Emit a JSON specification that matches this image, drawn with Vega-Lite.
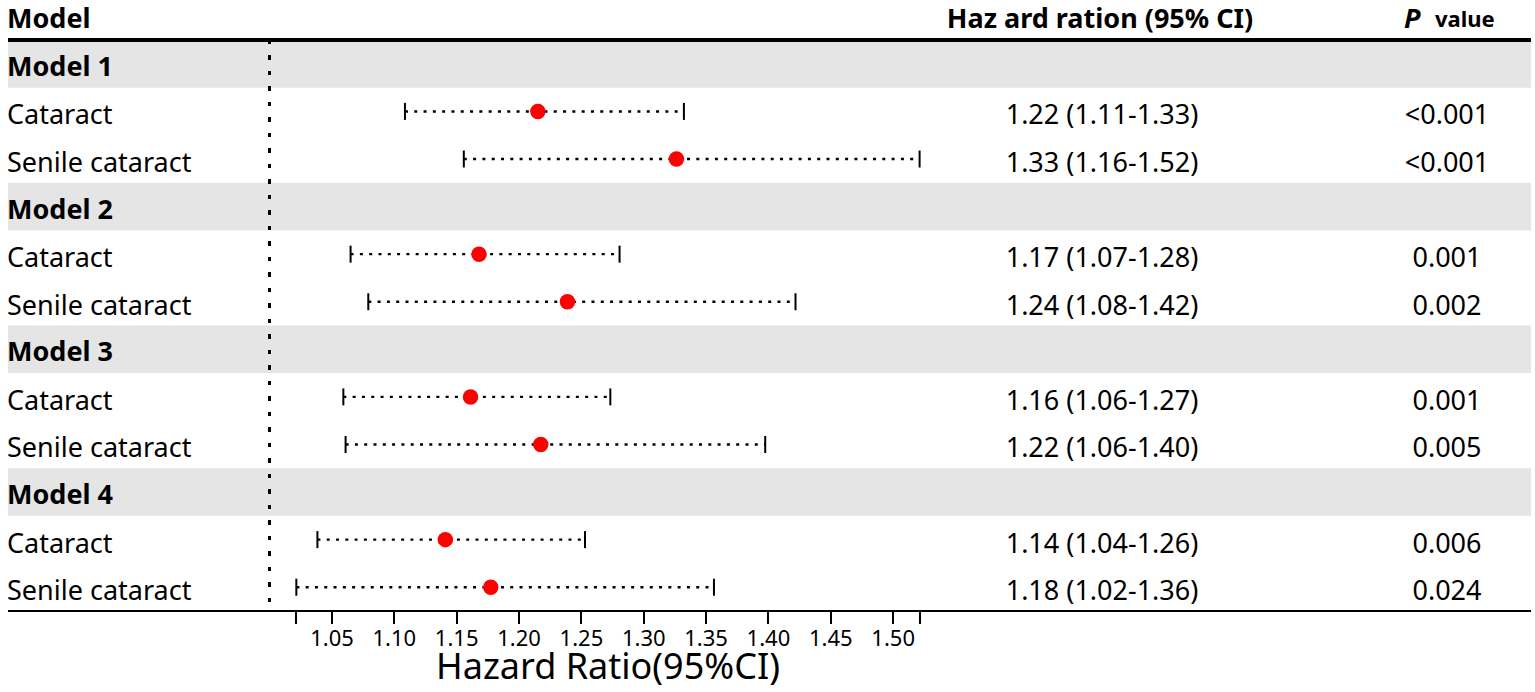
{
  "$schema": "https://vega.github.io/schema/vega-lite/v6.json",
  "background": "white",
  "padding": {"left": 6, "right": 6, "top": 2, "bottom": 4},
  "spacing": 0,
  "bounds": "flush",
  "config": {
    "view": {"stroke": null},
    "font": "Noto Sans",
    "text": {"color": "#000", "fontSize": 27, "baseline": "middle"}
  },
  "datasets": {
    "rows": [
      {"row": 0, "type": "header", "label": "Model", "hrci": "Haz ard ration (95% CI)", "p": "value"},
      {"row": 1, "type": "model", "label": "Model 1"},
      {"row": 2, "type": "item", "label": "Cataract", "hr": 1.2151, "lo": 1.1085, "hi": 1.3322, "hrci": "1.22 (1.11-1.33)", "p": "<0.001"},
      {"row": 3, "type": "item", "label": "Senile cataract", "hr": 1.3262, "lo": 1.1557, "hi": 1.5212, "hrci": "1.33 (1.16-1.52)", "p": "<0.001"},
      {"row": 4, "type": "model", "label": "Model 2"},
      {"row": 5, "type": "item", "label": "Cataract", "hr": 1.1679, "lo": 1.0649, "hi": 1.2806, "hrci": "1.17 (1.07-1.28)", "p": "0.001"},
      {"row": 6, "type": "item", "label": "Senile cataract", "hr": 1.2388, "lo": 1.0791, "hi": 1.4217, "hrci": "1.24 (1.08-1.42)", "p": "0.002"},
      {"row": 7, "type": "model", "label": "Model 3"},
      {"row": 8, "type": "item", "label": "Cataract", "hr": 1.1611, "lo": 1.0591, "hi": 1.2732, "hrci": "1.16 (1.06-1.27)", "p": "0.001"},
      {"row": 9, "type": "item", "label": "Senile cataract", "hr": 1.2174, "lo": 1.0609, "hi": 1.3974, "hrci": "1.22 (1.06-1.40)", "p": "0.005"},
      {"row": 10, "type": "model", "label": "Model 4"},
      {"row": 11, "type": "item", "label": "Cataract", "hr": 1.1409, "lo": 1.0383, "hi": 1.2529, "hrci": "1.14 (1.04-1.26)", "p": "0.006"},
      {"row": 12, "type": "item", "label": "Senile cataract", "hr": 1.1773, "lo": 1.0214, "hi": 1.3563, "hrci": "1.18 (1.02-1.36)", "p": "0.024"}
    ]
  },
  "data": {"name": "rows"},
  "hconcat": [
    {
      "width": 240,
      "height": 609,
      "layer": [
        {
          "transform": [{"filter": "datum.type === 'model'"}],
          "mark": {"type": "bar", "orient": "horizontal", "size": 47.6, "color": "#e5e5e5"},
          "encoding": {"y": {"field": "row", "type": "quantitative", "scale": {"domain": [-0.3, 12.5], "reverse": true, "nice": false, "zero": false, "padding": 0}, "axis": null}}
        },
        {
          "mark": {"type": "rule", "strokeWidth": 2.5, "color": "#000"},
          "encoding": {"y": {"datum": 0.5, "type": "quantitative", "axis": null}}
        },
        {
          "mark": {"type": "rule", "strokeWidth": 2, "color": "#000"},
          "encoding": {"y": {"datum": 12.5, "type": "quantitative", "axis": null}}
        },
        {
          "transform": [{"filter": "datum.type === 'header'"}],
          "mark": {"type": "text", "align": "left", "fontWeight": "bold", "dx": -1, "dy": 4},
          "encoding": {
            "x": {"datum": "label", "type": "nominal", "scale": {"type": "point", "align": 0, "padding": 0}, "axis": null},
            "y": {"field": "row", "type": "quantitative", "axis": null},
            "text": {"field": "label"}
          }
        },
        {
          "transform": [{"filter": "datum.type === 'model'"}],
          "mark": {"type": "text", "align": "left", "fontWeight": "bold", "dx": -1, "dy": 4},
          "encoding": {
            "x": {"datum": "label", "type": "nominal", "axis": null},
            "y": {"field": "row", "type": "quantitative", "axis": null},
            "text": {"field": "label"}
          }
        },
        {
          "transform": [{"filter": "datum.type === 'item'"}],
          "mark": {"type": "text", "align": "left", "dx": -1, "dy": 5},
          "encoding": {
            "x": {"datum": "label", "type": "nominal", "axis": null},
            "y": {"field": "row", "type": "quantitative", "axis": null},
            "text": {"field": "label"}
          }
        }
      ]
    },
    {
      "width": 770,
      "height": 609,
      "layer": [
        {
          "transform": [{"filter": "datum.type === 'model'"}],
          "mark": {"type": "bar", "orient": "horizontal", "size": 47.6, "color": "#e5e5e5"},
          "encoding": {"y": {"field": "row", "type": "quantitative", "scale": {"domain": [-0.3, 12.5], "reverse": true, "nice": false, "zero": false, "padding": 0}, "axis": null}}
        },
        {
          "mark": {"type": "rule", "strokeWidth": 2.5, "color": "#000"},
          "encoding": {"y": {"datum": 0.5, "type": "quantitative", "axis": null}}
        },
        {
          "mark": {"type": "rule", "strokeDash": [4, 11.5], "strokeWidth": 2.5, "color": "#000"},
          "encoding": {
            "x": {
              "datum": 1,
              "type": "quantitative",
              "scale": {"domain": [0.982638, 1.60012], "nice": false, "zero": false, "padding": 0},
              "axis": {
                "values": [1.0214, 1.05, 1.1, 1.15, 1.2, 1.25, 1.3, 1.35, 1.4, 1.45, 1.5, 1.5212],
                "labelExpr": "datum.value < 1.04 || datum.value > 1.51 ? '' : format(datum.value, '.2f')",
                "grid": false,
                "translate": 0,
                "domainColor": "#000",
                "domainWidth": 2,
                "tickColor": "#000",
                "tickWidth": 2,
                "tickSize": 13,
                "labelFontSize": 22,
                "labelColor": "#000",
                "labelPadding": 5,
                "labelFlush": false,
                "labelOverlap": false,
                "title": "Hazard Ratio(95%CI)",
                "titleFontSize": 36,
                "titleFontWeight": "normal",
                "titleColor": "#000",
                "titleX": 360,
                "titleY": 68,
                "titleAlign": "center",
                "titleBaseline": "alphabetic"
              }
            },
            "y": {"datum": 0.5, "type": "quantitative", "axis": null},
            "y2": {"datum": 12.5}
          }
        },
        {
          "transform": [{"filter": "datum.type === 'item'"}],
          "mark": {"type": "rule", "strokeDash": [3, 6.3], "strokeWidth": 2.4, "color": "#000"},
          "encoding": {
            "x": {"field": "lo", "type": "quantitative"},
            "x2": {"field": "hi"},
            "y": {"field": "row", "type": "quantitative", "axis": null}
          }
        },
        {
          "transform": [{"filter": "datum.type === 'item'"}],
          "mark": {"type": "tick", "orient": "vertical", "size": 17, "thickness": 2, "color": "#000", "opacity": 1},
          "encoding": {
            "x": {"field": "lo", "type": "quantitative"},
            "y": {"field": "row", "type": "quantitative", "axis": null}
          }
        },
        {
          "transform": [{"filter": "datum.type === 'item'"}],
          "mark": {"type": "tick", "orient": "vertical", "size": 17, "thickness": 2, "color": "#000", "opacity": 1},
          "encoding": {
            "x": {"field": "hi", "type": "quantitative"},
            "y": {"field": "row", "type": "quantitative", "axis": null}
          }
        },
        {
          "transform": [{"filter": "datum.type === 'item'"}],
          "mark": {"type": "circle", "size": 240, "color": "#ff0000", "opacity": 1},
          "encoding": {
            "x": {"field": "hr", "type": "quantitative"},
            "y": {"field": "row", "type": "quantitative", "axis": null}
          }
        }
      ]
    },
    {
      "width": 513,
      "height": 609,
      "layer": [
        {
          "transform": [{"filter": "datum.type === 'model'"}],
          "mark": {"type": "bar", "orient": "horizontal", "size": 47.6, "color": "#e5e5e5"},
          "encoding": {"y": {"field": "row", "type": "quantitative", "scale": {"domain": [-0.3, 12.5], "reverse": true, "nice": false, "zero": false, "padding": 0}, "axis": null}}
        },
        {
          "mark": {"type": "rule", "strokeWidth": 2.5, "color": "#000"},
          "encoding": {"y": {"datum": 0.5, "type": "quantitative", "axis": null}}
        },
        {
          "mark": {"type": "rule", "strokeWidth": 2, "color": "#000"},
          "encoding": {"y": {"datum": 12.5, "type": "quantitative", "axis": null}}
        },
        {
          "transform": [{"filter": "datum.type === 'item'"}],
          "mark": {"type": "text", "align": "center", "dy": 5},
          "encoding": {
            "x": {"datum": "HR", "type": "nominal", "scale": {"type": "point", "domain": ["HR", "P"], "padding": 0.2435}, "axis": null},
            "y": {"field": "row", "type": "quantitative", "axis": null},
            "text": {"field": "hrci"}
          }
        },
        {
          "transform": [{"filter": "datum.type === 'header'"}],
          "mark": {"type": "text", "align": "center", "fontWeight": "bold", "dy": 4, "dx": -2},
          "encoding": {
            "x": {"datum": "HR", "type": "nominal", "axis": null},
            "y": {"field": "row", "type": "quantitative", "axis": null},
            "text": {"field": "hrci"}
          }
        },
        {
          "transform": [{"filter": "datum.type === 'item'"}],
          "mark": {"type": "text", "align": "center", "dy": 5},
          "encoding": {
            "x": {"datum": "P", "type": "nominal", "axis": null},
            "y": {"field": "row", "type": "quantitative", "axis": null},
            "text": {"field": "p"}
          }
        },
        {
          "transform": [{"filter": "datum.type === 'header'"}],
          "mark": {"type": "text", "align": "left", "fontWeight": "bold", "fontSize": 22, "dx": -12, "dy": 4},
          "encoding": {
            "x": {"datum": "P", "type": "nominal", "axis": null},
            "y": {"field": "row", "type": "quantitative", "axis": null},
            "text": {"field": "p"}
          }
        },
        {
          "transform": [{"filter": "datum.type === 'header'"}],
          "mark": {"type": "text", "align": "left", "fontWeight": "bold", "fontStyle": "italic", "fontSize": 27, "dx": -43, "dy": 4},
          "encoding": {
            "x": {"datum": "P", "type": "nominal", "axis": null},
            "y": {"field": "row", "type": "quantitative", "axis": null},
            "text": {"value": "P"}
          }
        }
      ]
    }
  ]
}
